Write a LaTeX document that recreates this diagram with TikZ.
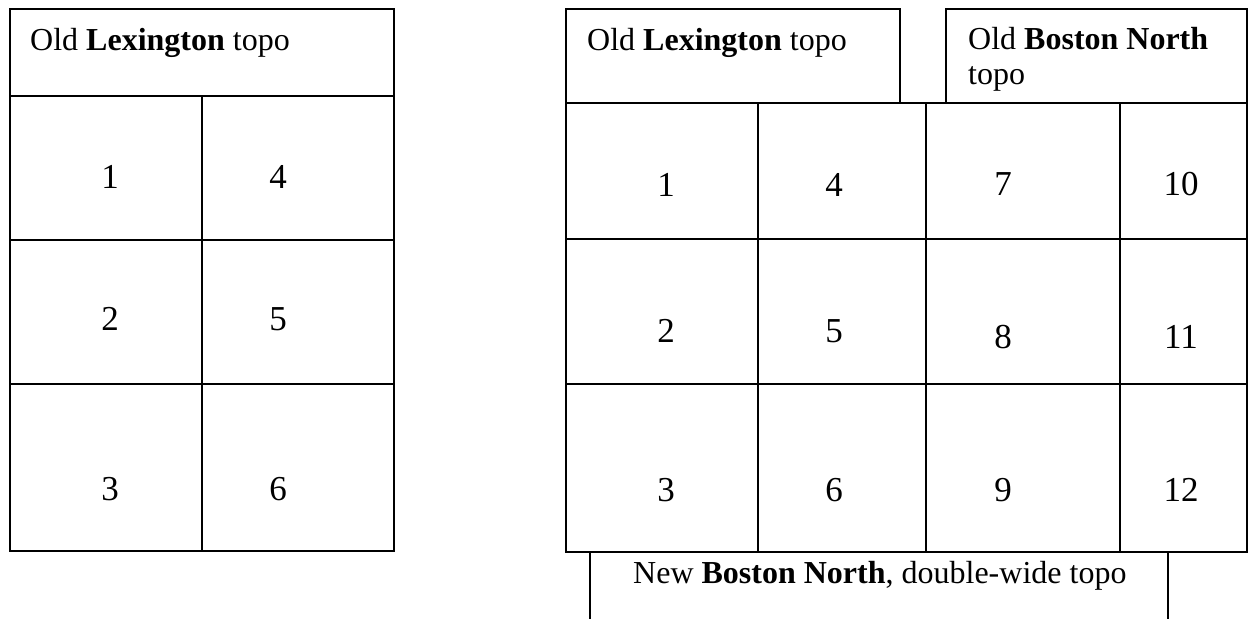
\documentclass[tikz,border=0pt]{standalone}
\usepackage{fontspec}
\setmainfont{Liberation Serif}
\begin{document}
\begin{tikzpicture}[x=1pt,y=-1pt,
  grid/.style={draw=black, line width=1.6pt},
  title/.style={anchor=base west, inner sep=0pt, font=\fontsize{32}{37}\selectfont},
  num/.style={anchor=base, inner sep=0pt, font=\fontsize{35}{40}\selectfont}]
\useasboundingbox (0,0) rectangle (1248,619);
% ---------- left table ----------
\draw[grid] (10,9) rectangle (394,551);
\draw[grid] (10,96) -- (394,96);
\draw[grid] (10,240) -- (394,240);
\draw[grid] (10,384) -- (394,384);
\draw[grid] (202,96) -- (202,551);
\node[title] (lt) at (30,50) {Old \textbf{Lexington} topo};
\node[num] (l1) at (110,188) {1};
\node[num] (l4) at (278,188) {4};
\node[num] (l2) at (110,330) {2};
\node[num] (l5) at (278,330) {5};
\node[num] (l3) at (110,500) {3};
\node[num] (l6) at (278,500) {6};
% ---------- right table ----------
\draw[grid] (566,9) rectangle (900,103);
\draw[grid] (946,9) rectangle (1247,103);
\draw[grid] (566,103) rectangle (1247,552);
\draw[grid] (566,239) -- (1247,239);
\draw[grid] (566,384) -- (1247,384);
\draw[grid] (758,103) -- (758,552);
\draw[grid] (926,103) -- (926,552);
\draw[grid] (1120,103) -- (1120,552);
\draw[grid] (590,552) -- (590,619);
\draw[grid] (1168,552) -- (1168,619);
\node[title] (rt) at (587,50) {Old \textbf{Lexington} topo};
\node[title] (bn1) at (968,49) {Old \textbf{Boston North}};
\node[title] (bn2) at (968,84) {topo};
\node[title] (nb) at (633,583) {New \textbf{Boston North}, double-wide topo};
\node[num] (r1) at (666,196) {1};
\node[num] (r4) at (834,196) {4};
\node[num] (r7) at (1003,195) {7};
\node[num] (r10) at (1181,195) {10};
\node[num] (r2) at (666,342) {2};
\node[num] (r5) at (834,342) {5};
\node[num] (r8) at (1003,348) {8};
\node[num] (r11) at (1181,348) {11};
\node[num] (r3) at (666,501) {3};
\node[num] (r6) at (834,501) {6};
\node[num] (r9) at (1003,501) {9};
\node[num] (r12) at (1181,501) {12};
\end{tikzpicture}
\end{document}
